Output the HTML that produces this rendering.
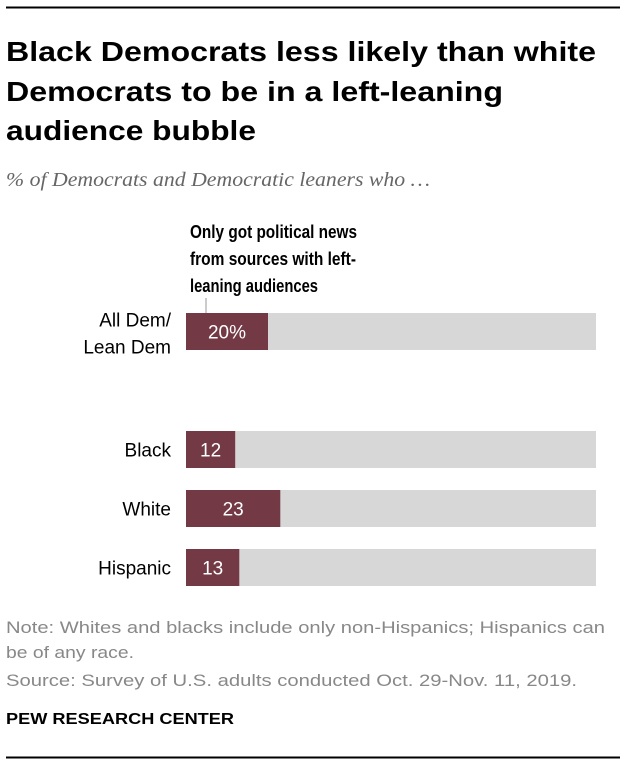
<!DOCTYPE html>
<html><head><meta charset="utf-8"><style>
body{margin:0;background:#fff;}
svg text{font-family:"Liberation Sans",sans-serif;}
</style></head><body>
<svg width="626" height="768" viewBox="0 0 626 768">
<line x1="6" y1="7.5" x2="620" y2="7.5" stroke="#000" stroke-width="2"/>
<g font-weight="bold" font-size="28" fill="#000">
<text x="6" y="61" textLength="590" lengthAdjust="spacingAndGlyphs">Black Democrats less likely than white</text>
<text x="6" y="101" textLength="497" lengthAdjust="spacingAndGlyphs">Democrats to be in a left-leaning</text>
<text x="6" y="140" textLength="250" lengthAdjust="spacingAndGlyphs">audience bubble</text>
</g>
<text x="6" y="186" font-style="italic" font-size="20" fill="#666" textLength="424" lengthAdjust="spacingAndGlyphs" style="font-family:'Liberation Serif',serif">% of Democrats and Democratic leaners who …</text>
<g font-weight="bold" font-size="18" fill="#000">
<text x="190" y="238" textLength="167" lengthAdjust="spacingAndGlyphs">Only got political news</text>
<text x="190" y="265" textLength="166" lengthAdjust="spacingAndGlyphs">from sources with left-</text>
<text x="190" y="292" textLength="128" lengthAdjust="spacingAndGlyphs">leaning audiences</text>
</g>
<line x1="206" y1="298" x2="206" y2="318" stroke="#999" stroke-width="1"/>
<g id="bars"></g>
<g font-size="17" fill="#888">
<text x="6" y="633" textLength="599" lengthAdjust="spacingAndGlyphs">Note: Whites and blacks include only non-Hispanics; Hispanics can</text>
<text x="6" y="658" textLength="128" lengthAdjust="spacingAndGlyphs">be of any race.</text>
<text x="6" y="686" textLength="571" lengthAdjust="spacingAndGlyphs">Source: Survey of U.S. adults conducted Oct. 29-Nov. 11, 2019.</text>
</g>
<text x="6" y="724" font-weight="bold" font-size="16" fill="#000" textLength="228" lengthAdjust="spacingAndGlyphs">PEW RESEARCH CENTER</text>
<line x1="6" y1="757.5" x2="620" y2="757.5" stroke="#000" stroke-width="2"/>
</svg>
<script>
const categories=[["All Dem/","Lean Dem"],["Black"],["White"],["Hispanic"]];
const values=[20,12,23,13];
const valueLabels=["20%","12","23","13"];
const rowNames=["all-dem","black","white","hispanic"];
const x0=186, W=410, rowY=[313,431,490,549], H=37;
const xs=v=>x0+W*v/100;
const g=document.getElementById('bars');
const NS="http://www.w3.org/2000/svg";
function mk(t,a){const e=document.createElementNS(NS,t);for(const k in a)e.setAttribute(k,a[k]);return e;}
values.forEach((v,i)=>{
 const y=rowY[i];
 const bg=mk('rect',{x:x0,y:y,width:W,height:H,fill:'#d7d7d7'});
 
 
 g.appendChild(bg);
 const r=mk('rect',{x:x0,y:y,width:xs(v)-x0,height:H,fill:'#733a46'});
 
 
 g.appendChild(r);
 const t=mk('text',{x:(x0+xs(v))/2,y:y+H/2+7,'font-size':19,fill:'#fff','text-anchor':'middle'});
 t.textContent=valueLabels[i];
 
 
 g.appendChild(t);
 const lines=categories[i];
 lines.forEach((s,j)=>{
  const cy=lines.length===1?y+H/2+7:y+H/2-5+j*27;
  const c=mk('text',{x:171,y:cy,'font-size':19,fill:'#000','text-anchor':'end'});
  c.textContent=s;
  
  
  g.appendChild(c);
 });
});
</script>
</body></html>
